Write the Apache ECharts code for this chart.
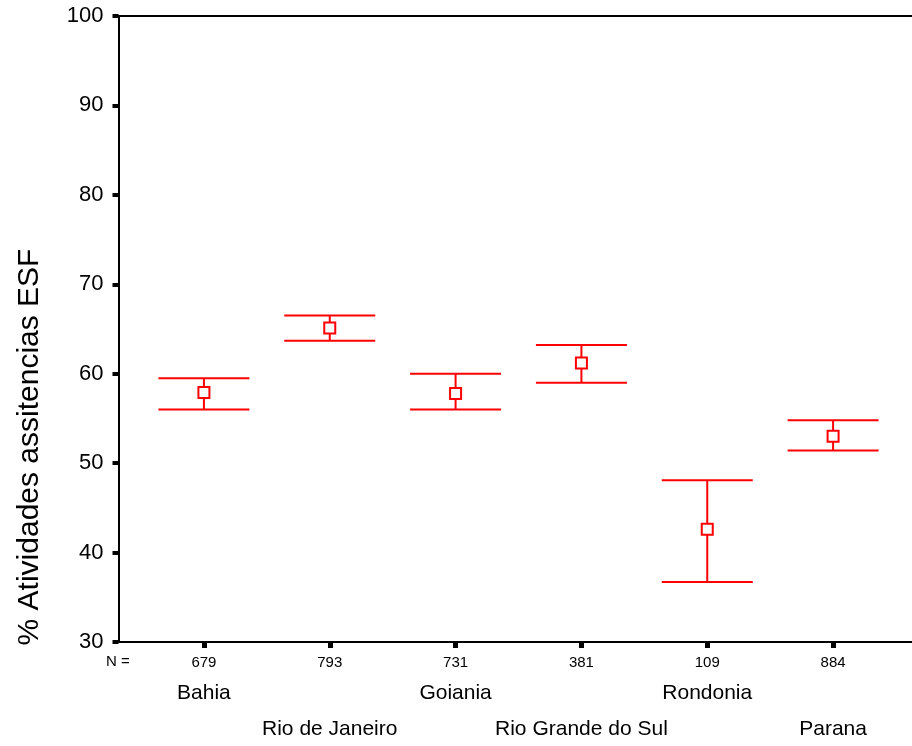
<!DOCTYPE html>
<html>
<head>
<meta charset="utf-8">
<script src="https://cdn.jsdelivr.net/npm/echarts@6/dist/echarts.min.js"></script>
<style>
  html, body { margin: 0; padding: 0; background: #fff; }
  #chart { width: 912px; height: 746px; }
</style>
</head>
<body>
<div id="chart"></div>
<script>
// states and sample sizes
const categories = ['Bahia', 'Rio de Janeiro', 'Goiania', 'Rio Grande do Sul', 'Rondonia', 'Parana'];
const counts = [679, 793, 731, 381, 109, 884];
// mean and 95% CI
const means = [57.9, 65.1, 57.8, 61.2, 42.6, 53.0];
const lower = [56.0, 63.7, 56.0, 59.0, 36.7, 51.4];
const upper = [59.5, 66.5, 60.0, 63.2, 48.1, 54.8];

const red = '#ff0000';
const font = 'Liberation Sans, Arial, sans-serif';

const myChart = echarts.init(document.getElementById('chart'));

const option = {
  animation: false,
  grid: [
    // frame: y axis + top/bottom lines
    {left: 118.5, right: -2, top: 16, bottom: 104},
    // category grid, centres line up with the ticks
    {left: 141, right: 16, top: 16, bottom: 104}
  ],
  xAxis: [
    {gridIndex: 0, type: 'value', min: 0, max: 1, position: 'bottom',
      axisLine: {show: true, lineStyle: {color: '#000', width: 2}},
      axisTick: {show: false}, axisLabel: {show: false}, splitLine: {show: false}},
    {gridIndex: 0, type: 'value', min: 0, max: 1, position: 'top',
      axisLine: {show: true, lineStyle: {color: '#000', width: 2}},
      axisTick: {show: false}, axisLabel: {show: false}, splitLine: {show: false}},
    {gridIndex: 1, type: 'category', data: categories, position: 'bottom',
      axisLine: {show: false},
      axisTick: {show: true, alignWithLabel: true, length: 6, lineStyle: {color: '#000', width: 5}},
      axisLabel: {interval: 0, margin: 13, color: '#000', fontFamily: font, fontSize: 15,
        formatter: (v, i) => String(counts[i])}},
    {gridIndex: 1, type: 'category', data: categories, position: 'bottom',
      axisLine: {show: false}, axisTick: {show: false},
      axisLabel: {interval: 0, margin: 41, color: '#000', fontFamily: font, fontSize: 21,
        formatter: (v, i) => i % 2 === 0 ? v : ''}},
    {gridIndex: 1, type: 'category', data: categories, position: 'bottom',
      axisLine: {show: false}, axisTick: {show: false},
      axisLabel: {interval: 0, margin: 77, color: '#000', fontFamily: font, fontSize: 21,
        formatter: (v, i) => i % 2 === 1 ? v : ''}}
  ],
  yAxis: [
    {gridIndex: 0, type: 'value', min: 30, max: 100, interval: 10,
      axisLine: {show: true, lineStyle: {color: '#000', width: 2}},
      axisTick: {show: true, length: 6, lineStyle: {color: '#000', width: 4}},
      axisLabel: {margin: 15, color: '#000', fontFamily: font, fontSize: 22},
      splitLine: {show: false}},
    {gridIndex: 1, type: 'value', min: 30, max: 100, show: false}
  ],
  graphic: [
    {type: 'text', left: 106, top: 654,
      style: {text: 'N =', fill: '#000', font: '15px ' + font}},
    {type: 'text', x: 30, y: 447, rotation: Math.PI / 2,
      style: {text: '% Atividades assitencias ESF', fill: '#000', font: '30px ' + font,
        align: 'center', verticalAlign: 'middle'}}
  ],
  series: [
    {
      type: 'custom',
      xAxisIndex: 2,
      yAxisIndex: 1,
      data: categories.map((c, i) => [i, lower[i], upper[i]]),
      renderItem: function (params, api) {
        const lo = api.coord([api.value(0), api.value(1)]);
        const hi = api.coord([api.value(0), api.value(2)]);
        const half = 45.5;
        const style = {stroke: red, lineWidth: 2};
        return {
          type: 'group',
          children: [
            {type: 'line', shape: {x1: hi[0] - half, y1: hi[1], x2: hi[0] + half, y2: hi[1]}, style},
            {type: 'line', shape: {x1: lo[0] - half, y1: lo[1], x2: lo[0] + half, y2: lo[1]}, style},
            {type: 'line', shape: {x1: hi[0], y1: hi[1], x2: lo[0], y2: lo[1]}, style}
          ]
        };
      },
      z: 2
    },
    {
      type: 'scatter',
      xAxisIndex: 2,
      yAxisIndex: 1,
      data: means.map((m, i) => [i, m]),
      symbol: 'rect',
      symbolSize: 11,
      itemStyle: {color: '#fff', borderColor: red, borderWidth: 2, opacity: 1},
      z: 3
    }
  ]
};

myChart.setOption(option);
</script>
</body>
</html>
